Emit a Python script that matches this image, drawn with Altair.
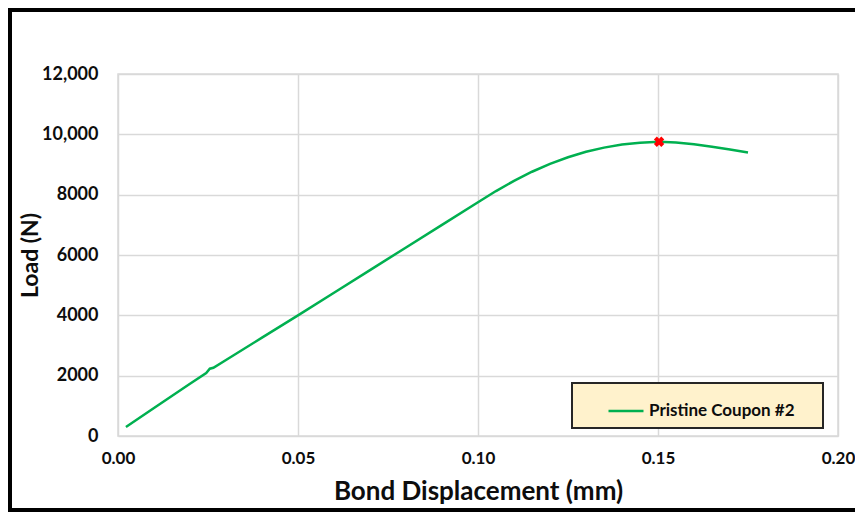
import altair as alt
import pandas as pd

# Bond displacement (mm) and load (N)
disp = [0.0022, 0.010, 0.020, 0.0245, 0.0255, 0.0265, 0.030, 0.040, 0.050,
        0.060, 0.070, 0.080, 0.090, 0.100, 0.105, 0.110, 0.115, 0.120,
        0.125, 0.130, 0.135, 0.140, 0.145, 0.1503, 0.155, 0.160, 0.165,
        0.170, 0.175]
load = [300, 930, 1730, 2090, 2230, 2260, 2520, 3260, 4000,
        4750, 5500, 6250, 7000, 7750, 8120, 8460, 8760, 9020,
        9240, 9420, 9560, 9660, 9720, 9755, 9730, 9670, 9590,
        9500, 9400]
series_name = "Pristine Coupon #2"

x_ticks = [0.0, 0.05, 0.10, 0.15, 0.20]
y_ticks = [0, 2000, 4000, 6000, 8000, 10000, 12000]

FONT = "Lato"
GREEN = "#00B050"
TEXT = "#0d0d0d"

df = pd.DataFrame({"disp": disp, "load": load, "series": series_name})
peak = df.loc[[df["load"].idxmax()]]

x_enc = alt.X(
    "disp:Q",
    scale=alt.Scale(domain=[0, 0.2], nice=False, zero=False),
    axis=alt.Axis(values=x_ticks, format=".2f", title="Bond Displacement (mm)",
                  labelFlush=False, labelFontSize=17,
                  labelPadding=14, titlePadding=12, titleFontSize=26),
)
y_enc = alt.Y(
    "load:Q",
    scale=alt.Scale(domain=[0, 12000], nice=False),
    axis=alt.Axis(values=y_ticks, title="Load (N)",
                  labelExpr="datum.value >= 10000 ? format(datum.value, ',') : format(datum.value, 'd')",
                  labelFontSize=18, labelPadding=20, titlePadding=-1, titleFontSize=23),
)

line = alt.Chart(df).mark_line(strokeWidth=2.5).encode(
    x=x_enc,
    y=y_enc,
    color=alt.Color(
        "series:N",
        scale=alt.Scale(range=[GREEN]),
        legend=alt.Legend(
            title="\u00a0", titleOrient="right", titleFontSize=1, titlePadding=19,
            orient="none", legendX=454, legendY=309,
            symbolType="stroke", symbolSize=1225, symbolStrokeWidth=2.5,
            symbolOffset=26, labelOffset=4, padding=9,
            fillColor="#FFF2CC", strokeColor="#262626",
            labelFont=FONT, labelFontSize=17, labelFontWeight="bold",
            labelColor=TEXT, labelLimit=400,
        ),
    ),
)

marker = alt.Chart(peak).mark_point(
    shape="cross", angle=45, filled=True, size=110, color="#FF0000", opacity=1
).encode(x="disp:Q", y="load:Q")

frame = alt.Chart(pd.DataFrame({"a": [0]})).mark_rect(
    filled=False, stroke="#000000", strokeWidth=4, clip=False
).encode(
    x=alt.value(-108), x2=alt.value(760),
    y=alt.value(-64), y2=alt.value(436),
)

chart = alt.layer(line, marker, frame).properties(
    width=720, height=362,
    autosize=alt.AutoSizeParams(type="none"),
    padding={"left": 110, "top": 66, "right": 17, "bottom": 76},
).configure(
    font=FONT,
).configure_view(
    stroke="#D9D9D9", strokeWidth=1.5,
).configure_axis(
    domain=False, ticks=False,
    gridColor="#D9D9D9", gridWidth=1.5,
    labelFont=FONT, labelFontWeight="bold", labelColor=TEXT,
    titleFont=FONT, titleFontWeight="bold", titleColor=TEXT,
).configure_legend(
    strokeWidth=2,
)

chart.save("out.html", embed_options={"renderer": "svg", "actions": False})
